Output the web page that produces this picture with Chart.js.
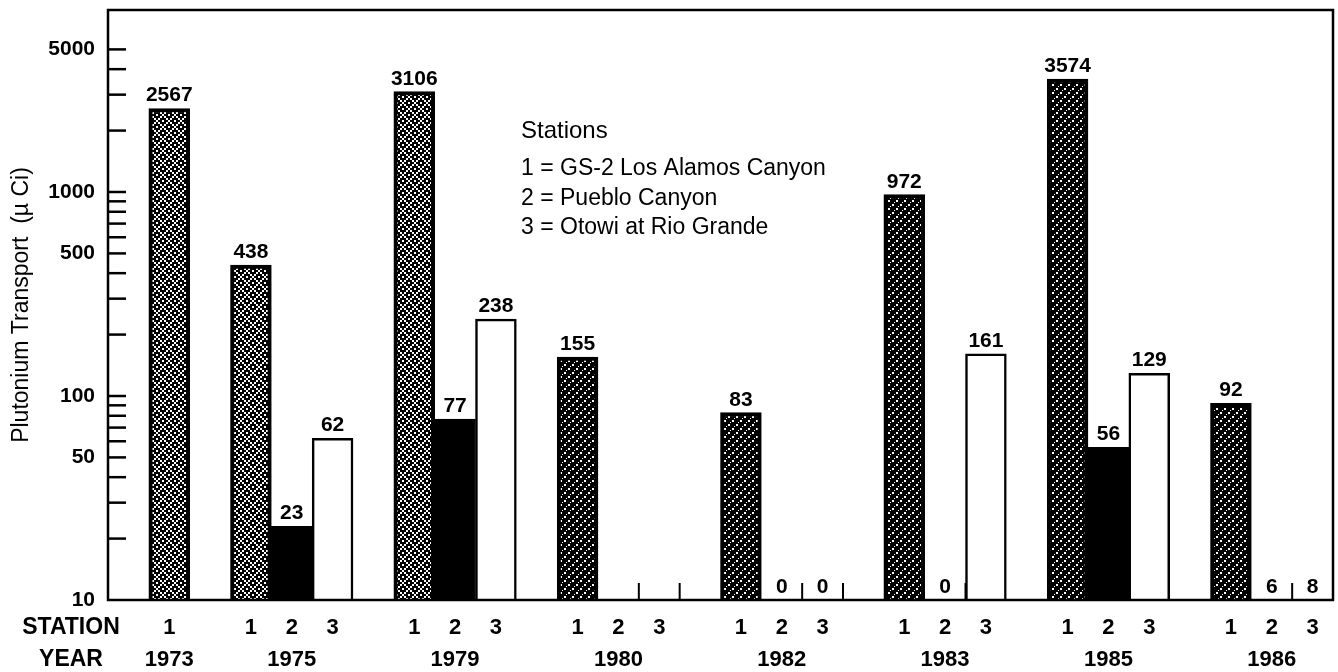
<!DOCTYPE html>
<html><head><meta charset="utf-8">
<script src="https://cdn.jsdelivr.net/npm/chart.js@4.4.1/dist/chart.umd.min.js"></script>
<style>html,body{margin:0;padding:0;background:#fff;}#wrap{width:1338px;height:672px;}</style>
</head><body><div id="wrap"><canvas id="c" width="1338" height="672"></canvas></div>
<script>
// ---- data ----
const years = ['1973','1975','1979','1980','1982','1983','1985','1986'];
const stationCounts = [1,3,3,3,3,3,3,3];
const station1 = [2567, 438, 3106, 155, 83, 972, 3574, 92];
const station2 = [null, 23, 77, null, 0, 0, 56, 6];
const station3 = [null, 62, 238, null, 0, 161, 129, 8];
const yTickMarks = [10,20,30,40,50,60,70,80,90,100,200,300,400,500,600,700,800,900,1000,2000,3000,4000,5000];
const yTickLabels = [10,50,100,500,1000,5000];
const yTitle = 'Plutonium Transport  (\u00b5 Ci)';
const rowTitles = ['STATION','YEAR'];
const legendTitle = 'Stations';
const legendLines = ['1 = GS-2 Los Alamos Canyon','2 = Pueblo Canyon','3 = Otowi at Rio Grande'];

const FONT = '"Liberation Sans", Arial, Helvetica, sans-serif';
Chart.defaults.font.family = FONT;
Chart.defaults.color = '#000';

// ---- slots (category positions incl. spacers) ----
const series = [station1, station2, station3];
const slots = [{label:['',''], value:undefined, station:0}];
years.forEach((yr, yi) => {
  if (yi > 0) slots.push({label:['',''], value:undefined, station:0});
  const n = stationCounts[yi];
  const mid = Math.floor((n - 1) / 2);
  for (let s = 0; s < n; s++) {
    slots.push({label:[String(s + 1), s === mid ? yr : ''], value: series[s][yi], station: s + 1, yearIdx: yi});
  }
});

// ---- patterns ----
function makePattern(kind) {
  const c = document.createElement('canvas');
  const g = c.getContext('2d');
  if (kind === 'light') {
    const rows = ['100100','010001','001010','100100','001010','010001'];
    c.width = 12; c.height = 12;
    g.fillStyle = '#000'; g.fillRect(0, 0, 12, 12); g.fillStyle = '#fff';
    rows.forEach((r, y) => [...r].forEach((ch, x) => { if (ch === '1') g.fillRect(x * 2, y * 2, 2, 2); }));
  } else {
    c.width = 8; c.height = 8;
    g.fillStyle = '#000'; g.fillRect(0, 0, 8, 8); g.fillStyle = '#fff';
    g.fillRect(0, 0, 2, 2); g.fillRect(4, 4, 2, 2); g.fillRect(2, 6, 1, 1); g.fillRect(6, 2, 1, 1);
  }
  return g.createPattern(c, 'repeat');
}
const patLight = makePattern('light');
const patDark = makePattern('dark');

const bg = slots.map(s => s.station === 1 ? (s.yearIdx <= 2 ? patLight : patDark) : s.station === 2 ? '#000' : '#fff');
const bw = slots.map(s => s.station === 1 ? 4 : s.station === 2 ? 1 : 2.5);

// ---- plugins ----
const valueLabels = {
  id: 'valueLabels',
  afterDatasetsDraw(chart) {
    const ctx = chart.ctx, meta = chart.getDatasetMeta(0), ys = chart.scales.y, xs = chart.scales.x, a = chart.chartArea;
    ctx.save();
    ctx.font = 'bold 21px ' + FONT; ctx.fillStyle = '#000'; ctx.textAlign = 'center'; ctx.textBaseline = 'alphabetic';
    ctx.strokeStyle = '#000'; ctx.lineWidth = 2;
    slots.forEach((s, i) => {
      if (!s.station) return;
      const px = xs.getPixelForValue(i);
      const v = s.value;
      if (v !== null) {
        const top = v >= ys.min ? meta.data[i].y : a.bottom;
        ctx.fillText(String(v), px, top - 7);
      }
      if (v === null || v < ys.min) {
        const ex = (xs.getPixelForValue(i) + xs.getPixelForValue(i + 1)) / 2;
        ctx.beginPath(); ctx.moveTo(ex, a.bottom); ctx.lineTo(ex, a.bottom - 17); ctx.stroke();
      }
    });
    ctx.restore();
  }
};
const frame = {
  id: 'frame',
  afterDraw(chart) {
    const ctx = chart.ctx, a = chart.chartArea, ys = chart.scales.y, xs = chart.scales.x;
    ctx.save();
    ctx.strokeStyle = '#000'; ctx.lineWidth = 2.5;
    ctx.strokeRect(a.left, a.top, a.right - a.left, a.bottom - a.top);
    ys.ticks.forEach(t => {
      const py = ys.getPixelForValue(t.value);
      if (py >= a.bottom - 1) return;
      ctx.beginPath(); ctx.moveTo(a.left, py); ctx.lineTo(a.left + 18, py); ctx.stroke();
    });
    // row titles
    ctx.fillStyle = '#000'; ctx.textAlign = 'center'; ctx.textBaseline = 'middle';
    ctx.font = 'bold 23px ' + FONT;
    rowTitles.forEach((t, k) => ctx.fillText(t, 71, xs.top + 12 + 16 + k * 32));
    // legend text
    ctx.textAlign = 'left';
    ctx.font = '24px ' + FONT;
    ctx.fillText(legendTitle, 521, 131);
    ctx.font = '23px ' + FONT;
    legendLines.forEach((t, k) => ctx.fillText(t, 521, 169 + k * 29.5));
    ctx.restore();
  }
};

new Chart(document.getElementById('c'), {
  type: 'bar',
  data: {
    labels: slots.map(s => s.label),
    datasets: [{
      data: slots.map(s => (s.value === undefined ? null : s.value)),
      backgroundColor: bg,
      borderColor: '#000',
      borderWidth: bw,
      borderSkipped: 'start',
      barPercentage: 1,
      categoryPercentage: 1,
      clip: 0
    }]
  },
  options: {
    responsive: false,
    animation: false,
    layout: {padding: {top: 10, right: 5, left: 0, bottom: 0}},
    plugins: {legend: {display: false}, tooltip: {enabled: false}},
    scales: {
      x: {
        type: 'category', offset: true,
        grid: {display: false, drawTicks: false}, border: {display: false},
        ticks: {autoSkip: false, maxRotation: 0, minRotation: 0, padding: 12, color: '#000',
                font: {size: 22, weight: 'bold', lineHeight: 32 / 22}},
        afterFit: s => { s.height = 72; s.paddingLeft = 0; s.paddingRight = 0; }
      },
      y: {
        type: 'logarithmic', min: 10, max: 7800,
        grid: {display: false, drawTicks: false}, border: {display: false},
        afterBuildTicks: s => { s.ticks = yTickMarks.map(v => ({value: v})); },
        ticks: {autoSkip: false, padding: 13, color: '#000', font: {size: 21, weight: 'bold'},
                callback: v => yTickLabels.includes(v) ? String(v) : ''},
        title: {display: true, text: yTitle, color: '#000', font: {size: 23}, padding: {top: 8, bottom: 0}},
        afterFit: s => { s.width = 108; s.paddingTop = 0; s.paddingBottom = 0; }
      }
    }
  },
  plugins: [valueLabels, frame]
});
</script></body></html>
